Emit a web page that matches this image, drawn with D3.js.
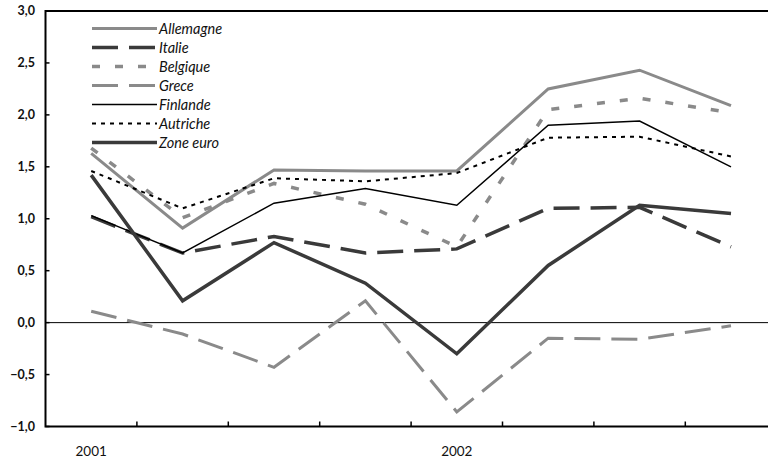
<!DOCTYPE html>
<html lang="fr">

<head>
    <meta charset="utf-8">
    <script src="https://cdn.jsdelivr.net/npm/d3@7/dist/d3.min.js"></script>
    <title>Zone euro</title>
    <style>
        body { margin: 0; background: #fff; }
        svg { display: block; font-family: "Lato", "DejaVu Sans", sans-serif; }
    </style>
</head>

<body>
    <svg width="768" height="461" id="plot"></svg>
    <script>
    // Data (quarters 2001-2002)
    const periods = ["2001T1", "2001T2", "2001T3", "2001T4", "2002T1", "2002T2", "2002T3", "2002T4"]
    const yearLabels = ["2001", "", "", "", "2002", "", "", ""]
    const yTicks = [-1, -0.5, 0, 0.5, 1, 1.5, 2, 2.5, 3]

    const allemagne = [1.63, 0.91, 1.47, 1.46, 1.46, 2.25, 2.43, 2.09]
    const italie = [1.02, 0.67, 0.83, 0.67, 0.71, 1.10, 1.11, 0.73]
    const belgique = [1.68, 1.01, 1.34, 1.14, 0.73, 2.05, 2.16, 2.02]
    const grece = [0.11, -0.11, -0.43, 0.21, -0.86, -0.15, -0.16, -0.03]
    const finlande = [1.03, 0.67, 1.15, 1.29, 1.13, 1.90, 1.94, 1.50]
    const autriche = [1.46, 1.10, 1.39, 1.36, 1.44, 1.78, 1.79, 1.60]
    const zoneEuro = [1.42, 0.21, 0.77, 0.38, -0.30, 0.55, 1.13, 1.05]

    // series list with styles (drawing order)
    const series = [
        { name: "Allemagne", values: allemagne, color: "#8a8a8a", width: 3, dash: null },
        { name: "Italie", values: italie, color: "#3a3a3a", width: 3.5, dash: "26,11" },
        { name: "Belgique", values: belgique, color: "#8a8a8a", width: 3.5, dash: "8,15" },
        { name: "Grece", values: grece, color: "#8a8a8a", width: 3, dash: "26,11" },
        { name: "Finlande", values: finlande, color: "#000", width: 1.5, dash: null },
        { name: "Autriche", values: autriche, color: "#000", width: 2, dash: "4,5" },
        { name: "Zone euro", values: zoneEuro, color: "#3a3a3a", width: 3.5, dash: null }
    ]

    let svg = d3.select("#plot")

    // scales
    const plotLeft = 45.5, plotTop = 11, plotBottom = 426.5, plotRight = 768
    let x = d3.scaleBand().domain(periods).range([plotLeft, plotLeft + 8 * 91.4]).padding(0)
    let y = d3.scaleLinear().domain([-1, 3]).range([plotBottom, plotTop])

    const fmt = d => d3.format(".1f")(d).replace(".", ",")

    // y axis labels + inward ticks
    svg.append("g").selectAll("text")
        .data(yTicks)
        .enter()
        .append("text")
        .attr("x", 35)
        .attr("y", d => y(d))
        .attr("dy", "0.35em")
        .attr("text-anchor", "end")
        .style("font-size", "12.5px")
        .style("font-weight", "bold")
        .style("fill", "#111")
        .text(fmt)

    svg.append("g").selectAll("line")
        .data(yTicks)
        .enter()
        .append("line")
        .attr("x1", plotLeft)
        .attr("x2", plotLeft + 4)
        .attr("y1", d => y(d))
        .attr("y2", d => y(d))
        .attr("stroke", "#000")
        .attr("stroke-width", 1.5)

    // x ticks at band boundaries (inward)
    svg.append("g").selectAll("line")
        .data(periods.slice(1))
        .enter()
        .append("line")
        .attr("x1", d => x(d))
        .attr("x2", d => x(d))
        .attr("y1", plotBottom)
        .attr("y2", plotBottom - 5)
        .attr("stroke", "#000")
        .attr("stroke-width", 1.5)

    // x labels
    svg.append("g").selectAll("text")
        .data(periods)
        .enter()
        .append("text")
        .attr("x", d => x(d) + x.bandwidth() / 2)
        .attr("y", 456)
        .attr("text-anchor", "middle")
        .style("font-size", "13.5px")
        .style("fill", "#111")
        .text((d, i) => yearLabels[i])

    // zero line
    svg.append("line")
        .attr("x1", plotLeft)
        .attr("x2", plotRight)
        .attr("y1", y(0))
        .attr("y2", y(0))
        .attr("stroke", "#000")
        .attr("stroke-width", 1)

    // frame: left axis, top border, bottom axis
    svg.append("path")
        .attr("d", `M${plotRight},${plotTop}H${plotLeft}V${plotBottom}H${plotRight}`)
        .attr("fill", "none")
        .attr("stroke", "#000")
        .attr("stroke-width", 2)

    // lines
    let line = d3.line()
        .x((d, i) => x(periods[i]) + x.bandwidth() / 2)
        .y(d => y(d))

    series.forEach(s => {
        svg.append("path")
            .datum(s.values)
            .attr("fill", "none")
            .attr("stroke", s.color)
            .attr("stroke-width", s.width)
            .attr("stroke-dasharray", s.dash)
            .attr("stroke-linejoin", "miter")
            .attr("d", line)
    })

    // legend
    let legend = svg.append("g").attr("id", "legend")
    series.forEach((s, i) => {
        let ly = 28.5 + i * 19
        legend.append("line")
            .attr("x1", 92)
            .attr("x2", 157)
            .attr("y1", ly)
            .attr("y2", ly)
            .attr("stroke", s.color)
            .attr("stroke-width", s.width)
            .attr("stroke-dasharray", s.dash)
        legend.append("text")
            .attr("x", 159)
            .attr("y", ly)
            .attr("dy", "0.35em")
            .style("font-size", "14.5px")
            .style("font-style", "italic")
            .style("fill", "#111")
            .text(s.name)
    })
    </script>
</body>

</html>
